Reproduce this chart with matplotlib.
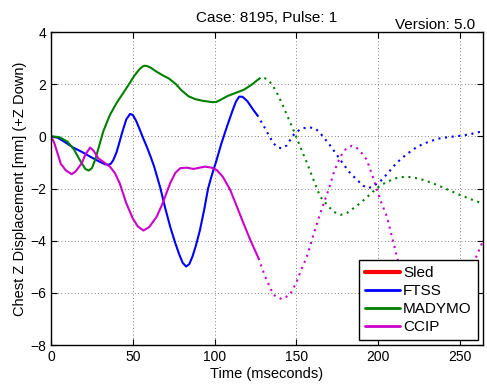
import matplotlib
matplotlib.use("Agg")
import matplotlib.pyplot as plt
import numpy as np

plt.rcParams['font.family'] = ['Liberation Sans', 'DejaVu Sans']

# ---- data ----
cutoff_ms = 127.0

sled_t = []
sled_z = []

ftss_t = [0, 4, 8, 13.6, 19, 24, 29, 33, 35, 36.5, 38, 40, 41.5, 43.5, 46, 48.3, 50, 52, 54, 56, 58.5, 61, 63,
          66.7, 70, 73, 76, 78.5, 80.5, 82.6, 84.5, 86.5, 88.5, 91, 93.5, 96, 98, 101, 104, 107.5, 111, 113, 115,
          117, 120, 123.7, 126, 130, 133, 136, 138.5, 141, 144, 147, 149, 153, 158, 162, 165.5, 170, 176.8, 182,
          187, 191, 194, 197, 201, 206, 211, 217, 224, 231, 238, 244, 250, 256, 264]
ftss_z = [0, -0.05, -0.2, -0.43, -0.6, -0.78, -0.95, -1.07, -1.09, -1.05, -0.92, -0.62, -0.3, 0.15, 0.65, 0.86,
          0.82, 0.6, 0.3, -0.02, -0.39, -0.8, -1.15, -1.95, -2.8, -3.5, -4.1, -4.55, -4.85, -4.99, -4.9, -4.6,
          -4.2, -3.6, -2.85, -2.0, -1.55, -0.95, -0.3, 0.37, 1.0, 1.33, 1.52, 1.52, 1.35, 1.01, 0.82, 0.4, 0.05,
          -0.27, -0.42, -0.46, -0.35, -0.05, 0.12, 0.3, 0.35, 0.28, 0.05, -0.3, -0.9, -1.35, -1.67, -1.9, -1.99,
          -1.9, -1.74, -1.4, -1.03, -0.7, -0.39, -0.2, -0.07, -0.02, 0.02, 0.08, 0.2]

madymo_t = [0, 5, 10, 14, 18, 21, 23, 25, 27, 29.5, 32, 36, 40, 44, 48, 51, 54, 56, 57.5, 59, 61, 64, 68, 72, 76,
            80, 84, 88, 93, 99, 101, 103, 108, 113, 118, 123, 127, 129, 133, 136, 139, 142, 145, 149, 153, 156.5,
            160, 164.5, 169.6, 173, 177, 181, 185, 189, 194, 199, 205, 211, 217, 225, 233, 241, 250, 257, 264]
madymo_z = [0, -0.03, -0.2, -0.5, -0.95, -1.25, -1.31, -1.22, -0.9, -0.35, 0.2, 0.82, 1.27, 1.65, 2.03, 2.33,
            2.57, 2.68, 2.71, 2.69, 2.63, 2.5, 2.35, 2.22, 2.02, 1.75, 1.54, 1.43, 1.36, 1.31, 1.32, 1.38, 1.55,
            1.67, 1.79, 2.0, 2.2, 2.29, 2.15, 1.9, 1.55, 1.14, 0.7, 0.12, -0.5, -1.03, -1.6, -2.31, -2.69, -2.9,
            -3.01, -2.93, -2.75, -2.56, -2.28, -1.99, -1.75, -1.6, -1.54, -1.62, -1.79, -2.0, -2.25, -2.42, -2.58]

ccip_t = [0, 2, 4, 6, 9, 12.6, 15, 18.8, 21, 23.9, 26, 28.9, 32, 36, 39, 42, 46, 50, 53, 56.5, 60, 64.6, 68,
          72.8, 76, 79, 83, 87, 91, 94.2, 98, 101.3, 105, 109.5, 113, 117.6, 122, 126.8, 131, 136, 141, 146,
          150, 153, 156.4, 160, 164.5, 169.6, 173, 176.8, 180, 183.9, 187, 190, 193, 198, 201, 205.3, 211.4,
          216, 222, 230, 238, 246, 254, 264]
ccip_z = [0, -0.25, -0.65, -1.05, -1.3, -1.45, -1.35, -1.03, -0.7, -0.43, -0.55, -0.84, -0.98, -1.16, -1.4,
          -1.8, -2.56, -3.15, -3.45, -3.61, -3.48, -3.08, -2.6, -1.8, -1.4, -1.22, -1.2, -1.25, -1.2, -1.16,
          -1.2, -1.29, -1.55, -2.05, -2.6, -3.33, -4.0, -4.67, -5.4, -6.08, -6.24, -6.08, -5.6, -5.1, -4.61,
          -3.85, -2.95, -2.05, -1.35, -0.78, -0.5, -0.36, -0.45, -0.65, -0.9, -1.8, -2.4, -3.08, -4.61, -5.7,
          -6.8, -7.5, -7.4, -6.6, -5.5, -4.0]

series_names = ['Sled', 'FTSS', 'MADYMO', 'CCIP']
series_colors = ['#ff0000', '#0000ff', '#008000', '#cc00cc']

x_ticks = [0, 50, 100, 150, 200, 250]
y_ticks = [-8, -6, -4, -2, 0, 2, 4]

# ---- plot ----
fig = plt.figure(figsize=(4.87, 3.86), dpi=100)
ax = fig.add_axes([0.1047, 0.1062, 0.8871, 0.8108])

data = [(sled_t, sled_z), (ftss_t, ftss_z), (madymo_t, madymo_z), (ccip_t, ccip_z)]
handles = []
for (t, z), name, col in zip(data, series_names, series_colors):
    t = np.asarray(t, float)
    z = np.asarray(z, float)
    solid = t <= cutoff_ms
    h, = ax.plot(t[solid], z[solid], color=col, lw=1.5, label=name,
                 solid_capstyle='round', solid_joinstyle='round')
    if len(t):
        dot = t >= t[solid][-1] if solid.any() else np.ones_like(t, bool)
        ax.plot(t[dot], z[dot], color=col, lw=1.5, linestyle=(0, (1, 2.2)))
    handles.append(h)

ax.set_xlim(0, 264)
ax.set_ylim(-8, 4)
ax.set_xticks(x_ticks)
ax.set_yticks(y_ticks)
ax.tick_params(direction='in', top=True, right=True, labelsize=10, length=4, width=0.8)
ax.grid(True, linestyle=(0, (1, 3)), color='#555555', linewidth=0.6)
for s in ax.spines.values():
    s.set_linewidth(1.0)

ax.set_xlabel('Time (mseconds)', fontsize=10.5, labelpad=2)
ax.set_ylabel('Chest Z Displacement [mm] (+Z Down)', fontsize=10.5, labelpad=2)
ax.set_title('Case: 8195, Pulse: 1', fontsize=11, pad=7)
fig.text(0.976, 0.926, 'Version: 5.0', ha='right', va='baseline', fontsize=11)

leg = ax.legend(handles=handles, loc='lower right', bbox_to_anchor=(0.988, 0.016),
                borderaxespad=0, fancybox=False, framealpha=1, edgecolor='black',
                fontsize=11, handlelength=2.3, handletextpad=0.2, labelspacing=0.25,
                borderpad=0.4)
leg.get_frame().set_linewidth(1.0)
for lh in leg.get_lines():
    lh.set_linewidth(2.0)
leg.get_lines()[0].set_linewidth(3.0)

fig.savefig('out.png', dpi=100)
